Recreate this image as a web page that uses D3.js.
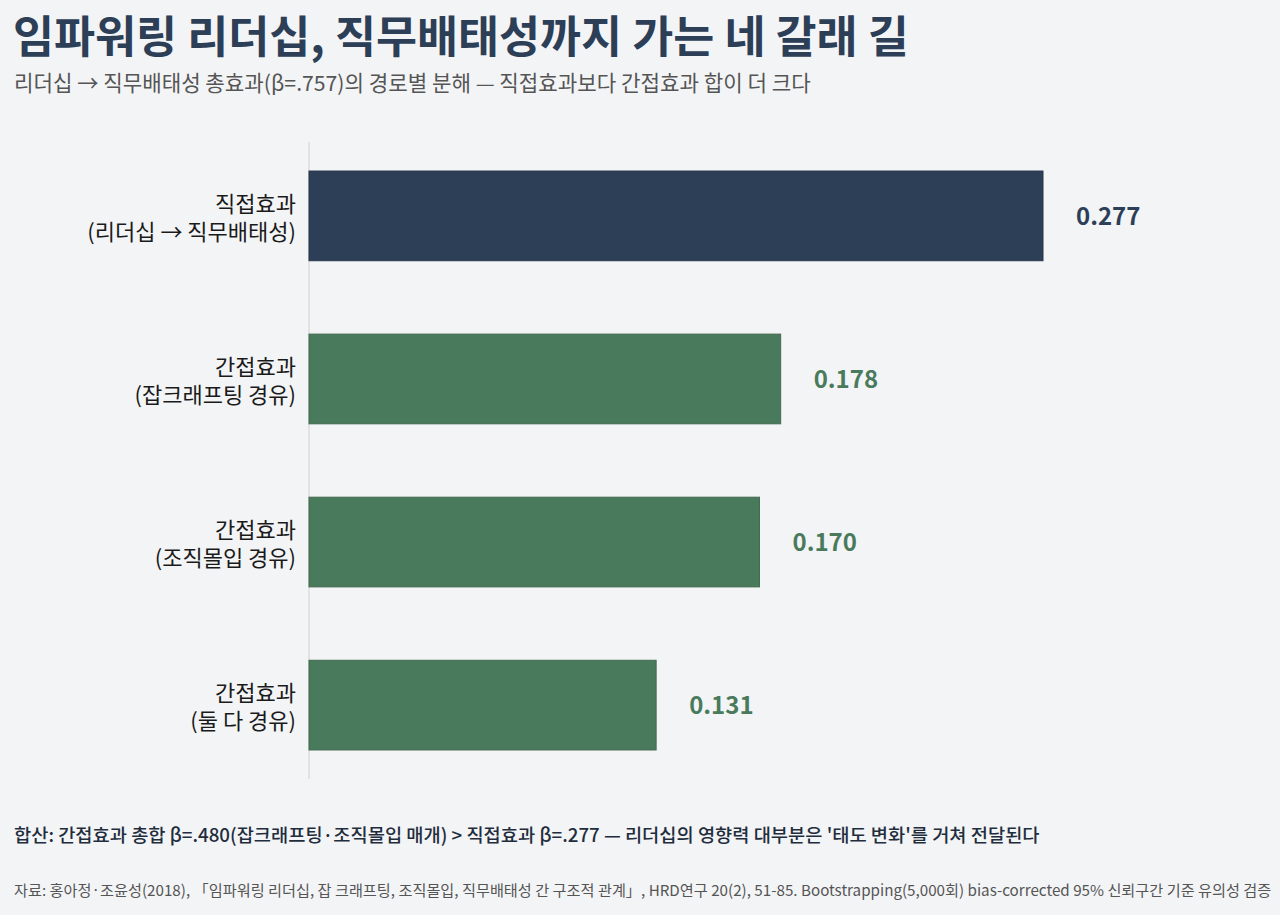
<!DOCTYPE html>
<html>
<head>
<meta charset="utf-8">
<script src="https://cdn.jsdelivr.net/npm/d3@7"></script>
<style>
  body { margin: 0; background: #f3f4f6; }
  svg { display: block; font-family: "Noto Sans CJK KR", "Noto Sans", sans-serif; }
</style>
</head>
<body>
<div id="chart"></div>
<script>
// paths and their effect sizes
const labels = [
  ["직접효과", "(리더십 → 직무배태성)"],
  ["간접효과", "(잡크래프팅 경유)"],
  ["간접효과", "(조직몰입 경유)"],
  ["간접효과", "(둘 다 경유)"]
];
const effects = [0.277, 0.178, 0.170, 0.131];
const kinds = ["direct", "indirect", "indirect", "indirect"];

const W = 1280, H = 915;
const navy = "#2d3e57", green = "#4a7a5c";
const color = k => k === "direct" ? navy : green;

const svg = d3.select("#chart").append("svg")
  .attr("width", W).attr("height", H);

svg.append("rect").attr("width", W).attr("height", H).attr("fill", "#f3f4f6");

svg.append("text").attr("x", 13).attr("y", 53)
  .attr("font-size", 44.6).attr("font-weight", 700).attr("fill", navy)
  .text("임파워링 리더십, 직무배태성까지 가는 네 갈래 길");

svg.append("text").attr("x", 14).attr("y", 91)
  .attr("font-size", 21.2).attr("fill", "#555")
  .text("리더십 → 직무배태성 총효과(β=.757)의 경로별 분해 — 직접효과보다 간접효과 합이 더 크다");

const data = effects.map((v, i) => ({ v, label: labels[i], kind: kinds[i], i }));

const x = d3.scaleLinear()
  .domain([0, 0.277 * 1.15])
  .range([309, 309 + 734 * 1.15]);

const y = d3.scaleBand()
  .domain(d3.range(data.length))
  .range([142, 779])
  .paddingInner(0.45)
  .paddingOuter(0.178);

svg.append("line")
  .attr("x1", x(0)).attr("x2", x(0))
  .attr("y1", 142).attr("y2", 779)
  .attr("stroke", "#d4cfc7").attr("stroke-width", 1);

svg.selectAll("rect.bar")
  .data(data)
  .enter().append("rect")
  .attr("class", "bar")
  .attr("x", x(0))
  .attr("y", d => y(d.i))
  .attr("width", d => x(d.v) - x(0))
  .attr("height", y.bandwidth())
  .attr("fill", d => color(d.kind))
  .attr("stroke", d => d3.color(color(d.kind)).darker(0.4))
  .attr("stroke-width", 1);

svg.selectAll("text.val")
  .data(data)
  .enter().append("text")
  .attr("class", "val")
  .attr("x", d => x(d.v) + 33)
  .attr("y", d => y(d.i) + y.bandwidth() / 2 + 9)
  .attr("font-size", 24).attr("font-weight", 700)
  .attr("fill", d => color(d.kind))
  .text(d => d.v.toFixed(3));

const lab = svg.selectAll("text.cat")
  .data(data)
  .enter().append("text")
  .attr("class", "cat")
  .attr("text-anchor", "end")
  .attr("font-size", 22).attr("font-weight", 400).attr("fill", "#1a1a1a");

lab.append("tspan")
  .attr("x", 296)
  .attr("y", d => y(d.i) + y.bandwidth() / 2 - 4)
  .text(d => d.label[0]);
lab.append("tspan")
  .attr("x", 296)
  .attr("y", d => y(d.i) + y.bandwidth() / 2 + 24)
  .text(d => d.label[1]);

svg.append("text").attr("x", 14).attr("y", 842)
  .attr("font-size", 18.7).attr("font-weight", 500).attr("fill", "#1f2d3d")
  .text("합산: 간접효과 총합 β=.480(잡크래프팅·조직몰입 매개) > 직접효과 β=.277 — 리더십의 영향력 대부분은 '태도 변화'를 거쳐 전달된다");

svg.append("text").attr("x", 14).attr("y", 896)
  .attr("font-size", 15.2).attr("fill", "#555")
  .text("자료: 홍아정·조윤성(2018), 「임파워링 리더십, 잡 크래프팅, 조직몰입, 직무배태성 간 구조적 관계」, HRD연구 20(2), 51-85. Bootstrapping(5,000회) bias-corrected 95% 신뢰구간 기준 유의성 검증");
</script>
</body>
</html>
